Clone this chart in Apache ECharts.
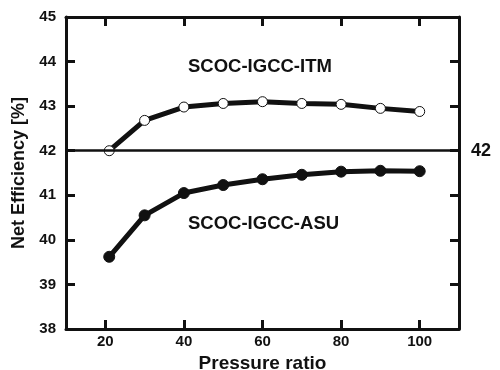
<!DOCTYPE html>
<html>
<head>
<meta charset="utf-8">
<script src="https://cdn.jsdelivr.net/npm/echarts@6/dist/echarts.min.js"></script>
<style>
  html, body { margin: 0; padding: 0; background: #fff; }
  #chart { width: 500px; height: 370px; }
</style>
</head>
<body>
<div id="chart"></div>
<script>
// data
const pressureRatio = [21, 30, 40, 50, 60, 70, 80, 90, 100];
const itmEfficiency = [42.0, 42.68, 42.98, 43.06, 43.1, 43.06, 43.04, 42.95, 42.88];
const asuEfficiency = [39.62, 40.55, 41.05, 41.23, 41.36, 41.46, 41.53, 41.55, 41.54];
const xTicks = [20, 40, 60, 80, 100];
const refLine = 42;

const font = '"Liberation Sans", Arial, sans-serif';
const ink = '#111';

const pairs = (ys) => pressureRatio.map((x, i) => [x, ys[i]]);

function frameX(pos, withLabels) {
  return {
    type: 'value', position: pos, min: 10, max: 110, interval: 10,
    axisLine: { show: true, onZero: false, lineStyle: { color: ink, width: 3 } },
    axisTick: { show: true, inside: true, length: 9, customValues: xTicks, lineStyle: { color: ink, width: 3 } },
    axisLabel: withLabels
      ? { customValues: xTicks, margin: 5, color: ink, fontFamily: font, fontWeight: 'bold', fontSize: 15 }
      : { show: false },
    splitLine: { show: false }
  };
}

function frameY(pos, withLabels) {
  return {
    type: 'value', position: pos, min: 38, max: 45, interval: 1,
    axisLine: { show: true, onZero: false, lineStyle: { color: ink, width: 3 } },
    axisTick: { show: true, inside: true, length: 9, lineStyle: { color: ink, width: 3 } },
    axisLabel: withLabels
      ? { margin: 10, color: ink, fontFamily: font, fontWeight: 'bold', fontSize: 15 }
      : { show: false },
    splitLine: { show: false }
  };
}

const xBottom = frameX('bottom', true);
xBottom.name = 'Pressure ratio';
xBottom.nameLocation = 'middle';
xBottom.nameGap = 21;
xBottom.nameTextStyle = { color: ink, fontFamily: font, fontWeight: 'bold', fontSize: 19 };

const yLeft = frameY('left', true);
yLeft.name = 'Net Efficiency [%]';
yLeft.nameLocation = 'middle';
yLeft.nameGap = 35;
yLeft.nameTextStyle = { color: ink, fontFamily: font, fontWeight: 'bold', fontSize: 18 };

const chart = echarts.init(document.getElementById('chart'));
chart.setOption({
  animation: false,
  grid: { left: 66, right: 41, top: 17, bottom: 41, outerBoundsMode: 'none' },
  xAxis: [xBottom, frameX('top', false)],
  yAxis: [yLeft, frameY('right', false)],
  series: [
    {
      name: 'SCOC-IGCC-ITM',
      type: 'line',
      data: pairs(itmEfficiency),
      symbol: 'circle',
      symbolSize: 10,
      lineStyle: { color: ink, width: 5 },
      itemStyle: { color: '#fff', borderColor: ink, borderWidth: 1 },
      markLine: {
        silent: true,
        symbol: 'none',
        lineStyle: { color: ink, width: 2.5, type: 'solid' },
        label: {
          position: 'end', distance: 12, formatter: String(refLine),
          color: ink, fontFamily: font, fontWeight: 'bold', fontSize: 18
        },
        data: [{ yAxis: refLine }]
      }
    },
    {
      name: 'SCOC-IGCC-ASU',
      type: 'line',
      data: pairs(asuEfficiency),
      symbol: 'circle',
      symbolSize: 11,
      lineStyle: { color: ink, width: 5 },
      itemStyle: { color: ink, borderColor: ink, borderWidth: 1 }
    }
  ],
  graphic: [
    { type: 'text', left: 188, top: 57, style: { text: 'SCOC-IGCC-ITM', fill: ink, font: 'bold 18.5px ' + font } },
    { type: 'text', left: 188, top: 214, style: { text: 'SCOC-IGCC-ASU', fill: ink, font: 'bold 18.5px ' + font } }
  ]
});
</script>
</body>
</html>
